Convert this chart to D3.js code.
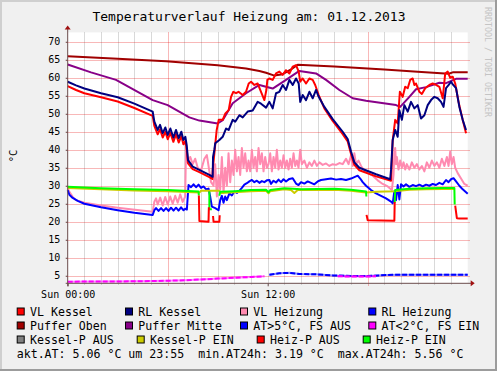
<!DOCTYPE html>
<html>
<head>
<meta charset="utf-8">
<script src="https://cdn.jsdelivr.net/npm/d3@7.9.0/dist/d3.min.js"></script>
<style>
  html, body { margin: 0; padding: 0; background: #f0f0f0; }
  svg { display: block; font-family: "DejaVu Sans Mono", monospace; }
</style>
</head>
<body>
<svg id="chart" width="497" height="371"></svg>
<script>
// ---- data (hour of day, °C) ----
const titleText = 'Temperaturverlauf Heizung am: 01.12.2013';
const unitLabel = '°C';
const yTicks = [5, 10, 15, 20, 25, 30, 35, 40, 45, 50, 55, 60, 65, 70];
const xTickHours = [0, 12];
const xTickLabels = ['Sun 00:00', 'Sun 12:00'];
const gridHours = d3.range(1, 24);
const majorGridHours = [6, 18];

const vlKessel = [
  [0,57.7],[0.5,56.6],[1,55.7],[2,54.6],[3,53.4],[4,51.6],[5.1,49.4],
  [5.2,46.6],[5.4,44.3],[5.54,45.7],[5.7,43.4],[5.86,45.0],[6.0,42.9],[6.16,44.7],[6.34,42.2],[6.5,44.3],
  [6.66,42.0],[6.82,43.8],[6.94,41.5],[7.06,42.4],[7.14,40.1],[7.22,36.2],[7.5,34.6],[7.9,33.8],[8.5,32.4],[8.68,31.9],
  [8.7,34.4],[8.8,39],[8.94,45.5],[9.06,48.3],[9.3,48.3],[9.46,50.1],[9.66,51],[9.8,54.7],[9.94,56.1],[10.1,55.7],
  [10.25,56.1],[10.5,55.2],[10.7,56.1],[10.86,58.4],[11.0,58.9],[11.2,58],[11.4,58.4],[11.6,56.1],[11.8,53.8],[11.92,56.6],[11.98,59.4],
  [12.1,59.8],[12.3,59.4],[12.5,61.2],[12.7,61.7],[12.9,60.8],[13.1,62.1],[13.3,61.2],[13.5,63.1],[13.7,63.5],[13.86,61.7],
  [13.95,58.9],[14.1,59.8],[14.3,58.4],[14.5,59.8],[14.7,59.4],[14.85,58],[15.06,55.2],
  [15.4,51.5],[15.9,48],[16.5,44.3],[16.8,42.3],[17.0,38.8],[17.2,35.8],[17.5,34.3],[18.5,32.6],[19.4,31.4],
  [19.5,42.7],[19.65,48.3],[19.8,47.3],[19.93,56.1],[20.1,54.7],[20.25,57.5],[20.4,57.1],[20.55,59.4],[20.7,59.8],[20.8,58],
  [20.9,58.4],[21.1,56.1],[21.25,55.5],[21.45,57.1],[21.7,58],[21.9,58.4],[22.1,58],[22.3,57.5],[22.5,54.3],[22.65,61.2],
  [22.8,61.7],[22.95,60],[23.1,60.3],[23.25,58.4],[23.45,53.3],[23.7,48.3],[23.9,44.6]
];
const rlKessel = [
  [0,58.9],[0.5,57.9],[1,57.0],[2,55.7],[3,54.6],[4,52.8],[5.1,50.6],
  [5.2,47.8],[5.4,45.5],[5.54,46.9],[5.7,44.6],[5.86,46.2],[6.0,44.1],[6.16,45.9],[6.34,43.4],[6.5,45.5],
  [6.66,43.2],[6.82,45.0],[6.94,42.7],[7.06,43.6],[7.14,41.3],[7.22,37.1],[7.5,35.3],[7.9,34.4],[8.5,33.0],[8.7,32.5],
  [8.72,38],[8.8,40],[8.85,41.8],[9.1,42.7],[9.3,43.6],[9.5,45.9],[9.66,45.5],[9.9,48.3],[10.05,47.8],[10.3,49.6],
  [10.5,49.0],[10.8,50.6],[11.1,50.9],[11.4,53.3],[11.6,52.8],[11.9,51.7],[12.1,53.3],[12.3,51.5],[12.5,55.7],[12.7,56.1],
  [12.9,58],[13.1,56.6],[13.3,59.4],[13.5,58],[13.7,59.8],[13.86,58.4],[13.95,53.3],[14.1,55.2],[14.3,53.8],[14.5,56.1],
  [14.7,54.3],[14.9,56.6],[15.06,54.7],
  [15.4,51.9],[15.9,48.5],[16.5,45],[16.8,43],[17.0,39.5],[17.2,36.5],[17.5,35.0],[18.5,33.2],[19.35,31.8],
  [19.4,34.4],[19.5,42.7],[19.65,45.5],[19.8,43.6],[19.9,51],[20.05,48.3],[20.2,52.4],[20.4,50.6],[20.6,53.3],[20.8,51.5],
  [21.0,52.4],[21.2,48.7],[21.4,49.6],[21.6,52.4],[21.8,53.8],[22.0,54.7],[22.2,54.3],[22.4,53.3],[22.55,51.9],[22.7,57.1],
  [22.86,58],[23.0,58.9],[23.13,58],[23.3,57.1],[23.5,51.9],[23.7,48.3],[23.9,45.5]
];
const vlHeizung = [
  [0,29.3],[0.1,28.3],[0.3,26.9],[0.5,26.0],[1,25.3],[1.9,24.6],[3,23.9],[3.9,23.4],[5.1,22.8],
  [5.2,25.6],[5.3,26.5],[5.4,24.8],[5.55,26.7],[5.7,24.5],[5.85,26.9],[6.0,24.8],[6.15,27.0],[6.3,25.0],[6.45,27.2],
  [6.6,25.3],[6.75,27.6],[6.9,25.5],[7.05,27.0],
  [7.1,40.5],[7.2,36.5],[7.35,38.0],[7.5,36.0],[7.65,37.5],[7.8,35.0],[8.0,34.2],[8.2,37.5],[8.35,38.5],[8.5,34.0],[8.6,31.0],
  [8.75,30],[8.85,36],[8.95,27],[9.05,33],[9.15,29],[9.25,38],[9.35,28],[9.45,35],[9.55,30],[9.65,39],[9.75,31],[9.85,37],
  [9.95,33],[10.05,40],[10.15,34],[10.25,38],[10.35,33],[10.45,40.5],[10.55,35],[10.65,39],[10.75,34],[10.85,37],[10.95,34],
  [11.05,40],[11.15,35],[11.25,38],[11.35,34],[11.45,40.5],[11.55,36],[11.65,39],[11.75,34],[11.85,38],[11.95,35],
  [12.05,36],[12.15,39],[12.25,34],[12.35,38],[12.45,35],[12.55,40],[12.65,34.5],[12.75,37],[12.85,35],[12.95,38.5],
  [13.05,35],[13.15,37],[13.25,34.5],[13.35,37.5],[13.45,35],[13.55,39],[13.65,35.5],[13.75,37],[13.85,35],[13.95,40],
  [14.05,36],[14.2,37],[14.35,35],[14.5,36.5],[14.65,35.5],[14.8,37],[14.95,35.5],[15.1,36.5],[15.3,35.8],[15.5,36.2],
  [15.7,35.5],[15.9,36],[16.1,35.8],[16.3,36.3],[16.5,36],[16.7,37.5],[16.85,36],[17.0,38.5],[17.1,35.5],[17.2,39],
  [17.3,36],[17.45,37],[17.6,35.5],[17.75,34.5],[18.0,33.5],[18.3,32.8],[18.6,31.5],[18.9,30.5],[19.2,29.8],[19.45,28.8],
  [19.55,33],[19.6,39],[19.65,40.5],[19.7,36],[19.75,38],[19.85,34.5],[19.95,37],[20.05,35],[20.15,36.5],[20.25,34.5],
  [20.35,36],[20.5,34.5],[20.65,36.5],[20.8,35],[20.95,36],[21.1,34.5],[21.25,35.5],[21.4,34],[21.55,36.5],[21.7,35],
  [21.85,37],[22.0,35.5],[22.15,36.5],[22.3,35],[22.45,37.5],[22.6,35.5],[22.75,38],[22.85,35.5],[22.95,39.5],[23.05,36],
  [23.15,38],[23.25,35],[23.4,33.5],[23.6,32],[23.8,30.5],[24,30]
];
const rlHeizung = [
  [0,28.8],[0.1,27.5],[0.3,26.6],[0.6,25.8],[1.0,25.0],[2.0,24.0],[3.0,23.2],[4.0,22.5],[5.1,21.9],
  [5.2,23.2],[5.3,23.8],[5.45,23.0],[5.6,23.8],[5.75,23.0],[5.9,23.8],[6.05,23.0],[6.2,23.9],[6.35,23.1],[6.5,23.9],
  [6.65,23.1],[6.8,24.0],[6.95,23.2],[7.05,23.6],[7.15,23.4],[7.25,30.2],[7.4,29.6],[7.55,30.4],[7.7,29.6],[7.85,30.3],
  [8.0,29.4],[8.15,29.8],[8.3,29.0],[8.45,29.2],[8.55,27],[8.65,24.2],[8.85,23.8],[9.05,23.2],[9.15,26],[9.25,27.2],
  [9.35,25.3],[9.45,27],[9.55,26],[9.7,27.9],[9.85,27.3],[10.0,28.4],[10.15,28],[10.3,28.6],[10.45,29.4],[10.6,30.3],
  [10.75,30.7],[10.9,31.2],[11.05,31.6],[11.2,31.0],[11.35,31.4],[11.5,30.8],[11.65,31.3],[11.8,31.0],[11.95,31.5],
  [12.1,31.6],[12.2,30.5],[12.35,31.4],[12.5,30.9],[12.65,31.7],[12.8,31.0],[12.95,31.8],[13.1,31.2],[13.3,31.9],
  [13.5,32.1],[13.7,30.6],[13.85,30.2],[14.0,31.0],[14.2,30.6],[14.4,31.2],[14.6,30.8],[14.8,30.4],[15.0,31.2],
  [15.2,31.6],[15.5,31.8],[15.8,32.0],[16.1,31.7],[16.4,31.9],[16.7,31.6],[17.0,32.0],[17.2,32.4],[17.4,32.8],
  [17.55,32.0],[17.7,31.0],[17.9,30.0],[18.2,28.8],[18.5,27.9],[18.8,27.2],[19.1,26.5],[19.4,25.6],[19.5,25.1],
  [19.6,28.5],[19.7,26.0],[19.8,30.2],[19.9,26.2],[20.0,30.4],[20.15,29.8],[20.3,30.4],[20.5,29.7],[20.7,30.2],
  [20.9,29.9],[21.1,30.3],[21.3,29.8],[21.5,30.3],[21.7,30.0],[21.9,30.5],[22.1,30.2],[22.3,30.8],[22.5,30.4],
  [22.7,31.6],[22.85,31.0],[23.0,31.8],[23.15,32.1],[23.3,31.2],[23.5,30.0],[23.7,29.0],[24,27.8]
];
const pufferOben = [
  [0,66.0],[3,65.3],[5.9,64.6],[9,63.5],[10.7,62.6],[11.5,61.9],[11.9,61.4],[12.4,60.6],[12.9,61.0],[13.4,62.3],
  [13.8,63.6],[16,63.1],[19,62.3],[21,61.7],[22.86,61.1],[23.1,61.5],[24,61.5]
];
const pufferMitte = [
  [0,63.7],[1.4,61.5],[2.9,59.4],[5.1,53.8],[6,52.4],[7.3,49],[7.9,48.1],[9,47.3],[9.3,48.2],[9.9,52.9],[10.7,55.7],
  [11.5,58],[11.9,57.5],[12.3,57.0],[13.1,59.4],[13.9,61.9],[14.9,61.2],[15.5,59.4],[16.3,56.6],[17.1,54.3],[17.9,53.6],
  [19.7,52.4],[19.95,51.9],[20.5,54.7],[20.9,56.8],[21.5,57.4],[22.3,58.6],[22.7,58.5],[23.3,59.7],[24,59.7]
];
const atWarm = [
  [12.1,5.3],[12.7,5.7],[13.3,5.8],[13.9,5.5],[14.9,5.4],[15.9,5.1],[17,4.95],[18,4.9],[19.1,5.2],[20,5.3],
  [21,5.25],[22,5.3],[23,5.25],[24,5.3]
];
const atCold = [
  [0,3.35],[2,3.4],[4,3.45],[6,3.6],[7,3.75],[8,3.95],[9,4.2],[10,4.45],[11,4.65],[11.8,4.85],[11.8,null],
  [16.2,4.85],[17,4.8],[18,4.8],[18.5,4.85]
];
const kesselPAus = [];
const kesselPEin = [
  [0,29.4],[2,29.0],[4,28.7],[6,28.5],[7.9,28.1],[8.0,28.6],[9.1,28.6],[9.2,28.0],[10,28.2],[11,28.5],[11.9,28.6],
  [12.05,27.9],[12.15,28.5],[13,29.0],[13.4,28.8],[13.6,28.0],[13.8,28.8],[15,28.8],[16,28.9],[17,28.6],[17.9,28.1],
  [18.5,28.3],[19.6,28.5],[20.5,28.9],[21.5,29.0],[22.5,29.1],[23.2,29.1]
];
const heizPAus = [
  [7.87,27.3],[7.9,20.2],[8.45,20.0],[8.47,24.0],[8.47,null],
  [8.72,21.6],[8.75,20.0],[9.1,20.0],[9.12,21.8],[9.12,null],
  [17.93,21.9],[18.0,20.4],[19.6,20.3],[19.62,25.5],[19.62,null],
  [23.25,24.5],[23.35,21.0],[23.5,20.9],[24,20.9]
];
const heizPEin = [
  [0,29.7],[2,29.3],[4,29.0],[6,28.8],[7.85,28.4],[7.87,27.3],[7.87,null],
  [8.5,28.4],[8.5,23.5],[8.65,23.5],[8.65,null],
  [9.1,27.2],[9.15,28.3],[10,28.5],[11,28.8],[11.9,28.9],[12.05,28.2],[12.15,28.8],[13,29.3],[14,29.0],[15,29.1],
  [16,29.2],[17,28.9],[17.9,28.4],[17.92,27.0],[17.92,null],
  [19.62,25.3],[19.65,28.8],[20.5,29.2],[21.5,29.3],[22.5,29.4],[23.2,29.4],[23.22,24.8]
];

const legendNames = ['VL Kessel', 'RL Kessel', 'VL Heizung', 'RL Heizung',
  'Puffer Oben', 'Puffer Mitte', 'AT>5°C, FS AUS', 'AT<2°C, FS EIN',
  'Kessel-P AUS', 'Kessel-P EIN', 'Heiz-P AUS', 'Heiz-P EIN'];
const aktAT = 5.06, aktTime = '23:55', minAT = 3.19, maxAT = 5.56;

// ---- styles ----
const colors = {
  vlKessel: '#ff0000', rlKessel: '#000080', vlHeizung: '#ff8ab0', rlHeizung: '#0000ff',
  pufferOben: '#a00000', pufferMitte: '#880088', atWarm: '#0000ff', atCold: '#ff00ff',
  kesselPAus: '#808080', kesselPEin: '#cccc00', heizPAus: '#ff0000', heizPEin: '#00ff00'
};
const legendColors = [colors.vlKessel, colors.rlKessel, colors.vlHeizung, colors.rlHeizung,
  colors.pufferOben, colors.pufferMitte, colors.atWarm, colors.atCold,
  colors.kesselPAus, colors.kesselPEin, colors.heizPAus, colors.heizPEin];

const W = 497, H = 371;
const plot = { left: 67.7, right: 467.7, top: 32.4, bottom: 283.3 };

const svg = d3.select('#chart');
const x = d3.scaleLinear().domain([0, 24]).range([plot.left, plot.right]);
const y = d3.scaleLinear().domain([2.9, 72.6]).range([plot.bottom, plot.top]);

// canvas + frame
svg.append('rect').attr('width', W).attr('height', H).attr('fill', '#f0f0f0');
svg.append('path').attr('d', `M1,${H} V1 H${W}`).attr('fill', 'none').attr('stroke', '#cfcfcf').attr('stroke-width', 2);
svg.append('path').attr('d', `M0,${H - 1} H${W - 1} V0`).attr('fill', 'none').attr('stroke', '#9c9c9c').attr('stroke-width', 2);

svg.append('rect')
  .attr('x', plot.left).attr('y', plot.top)
  .attr('width', plot.right - plot.left).attr('height', plot.bottom - plot.top)
  .attr('fill', '#ffffff');

// grid
const grid = svg.append('g').attr('shape-rendering', 'crispEdges');
grid.selectAll('.vminor').data(gridHours.filter(h => !majorGridHours.includes(h))).join('line')
  .attr('x1', d => Math.round(x(d)) + 0.5).attr('x2', d => Math.round(x(d)) + 0.5)
  .attr('y1', plot.top).attr('y2', plot.bottom + 2)
  .attr('stroke', 'rgba(128,128,128,0.3)');
grid.selectAll('.vmajor').data(majorGridHours).join('line')
  .attr('x1', d => Math.round(x(d)) + 0.5).attr('x2', d => Math.round(x(d)) + 0.5)
  .attr('y1', plot.top).attr('y2', plot.bottom + 3)
  .attr('stroke', 'rgba(230,0,0,0.28)');
grid.selectAll('.hmajor').data(yTicks).join('line')
  .attr('x1', plot.left - 2).attr('x2', plot.right + 2)
  .attr('y1', d => Math.round(y(d)) + 0.5).attr('y2', d => Math.round(y(d)) + 0.5)
  .attr('stroke', 'rgba(230,0,0,0.28)');

// series
const line = d3.line()
  .defined(d => d[1] !== null)
  .x(d => x(d[0])).y(d => y(d[1]));

const drawSeries = (data, color, width = 2) => svg.append('path')
  .datum(data).attr('d', line)
  .attr('fill', 'none').attr('stroke', color).attr('stroke-width', width)
  .attr('stroke-linejoin', 'round');

const drawDashed = (data, color) => {
  drawSeries(data, color, 2).attr('stroke-opacity', 0.45);
  drawSeries(data, color, 2).attr('stroke-dasharray', '5,2');
};

drawSeries(pufferOben, colors.pufferOben);
drawSeries(pufferMitte, colors.pufferMitte);
drawSeries(vlHeizung, colors.vlHeizung);
drawSeries(rlHeizung, colors.rlHeizung);
drawSeries(kesselPAus, colors.kesselPAus);
drawSeries(kesselPEin, colors.kesselPEin);
drawSeries(heizPEin, colors.heizPEin);
drawSeries(heizPAus, colors.heizPAus);
drawDashed(atWarm, colors.atWarm);
drawDashed(atCold, colors.atCold);
drawSeries(vlKessel, colors.vlKessel);
drawSeries(rlKessel, colors.rlKessel);

// axes
const axisColor = '#6b4c4c';
svg.append('line').attr('x1', plot.left - 2).attr('x2', plot.right + 4)
  .attr('y1', plot.bottom).attr('y2', plot.bottom).attr('stroke', axisColor);
svg.append('line').attr('x1', plot.left).attr('x2', plot.left)
  .attr('y1', plot.bottom + 3).attr('y2', plot.top - 4).attr('stroke', axisColor);
svg.append('path')
  .attr('d', `M${plot.right + 3},${plot.bottom - 3} L${plot.right + 7},${plot.bottom} L${plot.right + 3},${plot.bottom + 3} Z`)
  .attr('fill', '#a01010');
svg.append('path')
  .attr('d', `M${plot.left - 3},${plot.top - 3} L${plot.left},${plot.top - 7} L${plot.left + 3},${plot.top - 3} Z`)
  .attr('fill', '#a01010');

const yAxis = svg.append('g')
  .attr('transform', `translate(${plot.left},0)`)
  .call(d3.axisLeft(y).tickValues(yTicks).tickSize(2).tickPadding(5.5));
yAxis.select('.domain').remove();
yAxis.selectAll('line').attr('stroke', axisColor);
yAxis.selectAll('text').attr('font-size', 10).attr('fill', '#000')
  .attr('font-family', '"DejaVu Sans Mono", monospace');

const xAxis = svg.append('g')
  .attr('transform', `translate(0,${plot.bottom})`)
  .call(d3.axisBottom(x).tickValues(xTickHours).tickSize(3).tickPadding(5)
    .tickFormat((d, i) => xTickLabels[i]));
xAxis.select('.domain').remove();
xAxis.selectAll('line').attr('stroke', axisColor);
xAxis.selectAll('text').attr('font-size', 10).attr('fill', '#000')
  .attr('font-family', '"DejaVu Sans Mono", monospace');

// title, unit, watermark
svg.append('text').attr('x', 249).attr('y', 20.7).attr('text-anchor', 'middle')
  .attr('font-size', 13).attr('fill', '#000').text(titleText);
svg.append('text').attr('transform', 'translate(16.5,156) rotate(-90)')
  .attr('text-anchor', 'middle').attr('font-size', 10.5).attr('fill', '#000').text(unitLabel);
svg.append('text').attr('transform', 'translate(484.5,7) rotate(90)')
  .attr('font-size', 8.3).attr('fill', '#c4c4c4').text('RRDTOOL / TOBI OETIKER');

// legend
const rowBase = [315.5, 329.5, 343.5];
const boxCols = [[16.7, 125, 240, 368.3], [16.7, 125, 240, 368.3], [16.7, 136.7, 256.7, 362.7]];
const legend = svg.append('g').attr('font-size', 11.6);
legendNames.forEach((name, i) => {
  const r = Math.floor(i / 4), c = i % 4;
  const bx = boxCols[r][c];
  legend.append('rect').attr('x', bx + 0.5).attr('y', rowBase[r] - 7.5)
    .attr('width', 7).attr('height', 7)
    .attr('fill', legendColors[i]).attr('stroke', '#000').attr('stroke-width', 1);
  legend.append('text').attr('x', bx + 13.3).attr('y', rowBase[r]).attr('fill', '#000').text(name);
});
legend.append('text').attr('x', 16.7).attr('y', 357.5).attr('fill', '#000')
  .style('white-space', 'pre')
  .text(`akt.AT: ${aktAT.toFixed(2)} °C um ${aktTime}  min.AT24h: ${minAT.toFixed(2)} °C  max.AT24h: ${maxAT.toFixed(2)} °C`);
</script>
</body>
</html>
